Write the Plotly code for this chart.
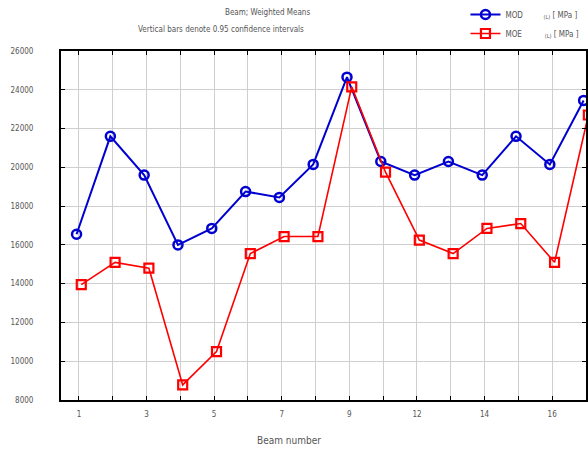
import plotly.graph_objects as go

beams = ["1", "2", "3", "4", "5", "6", "7", "8", "9", "10", "12", "13", "14", "15", "16", "17"]
mod_vals = [16550, 21600, 19600, 16000, 16850, 18750, 18450, 20150, 24650,
            20300, 19600, 20300, 19600, 21600, 20150, 23450]
moe_vals = [13950, 15100, 14800, 8780, 10500, 15550, 16430, 16430, 24150,
            19750, 16250, 15550, 16850, 17100, 15100, 22700]
y_ticks = [8000, 10000, 12000, 14000, 16000, 18000, 20000, 22000, 24000, 26000]
x_ticktext = [b if i % 2 == 0 else "" for i, b in enumerate(beams)]

FONT = "Liberation Sans Narrow, DejaVu Sans Condensed, Arial Narrow, sans-serif"
BLUE = "#0000d0"
RED = "#ff0000"
W, H = 588, 451
ML, MT, MB, MR = 61, 51, 51, 0
PW, PH = W - ML - MR, H - MT - MB

fig = go.Figure()
fig.add_trace(go.Scatter(
    x=beams, y=mod_vals, mode="lines+markers",
    name="MOD&nbsp;&nbsp;&nbsp;&nbsp;&nbsp;&nbsp;&nbsp;&nbsp;&nbsp;<sub>(L)</sub> [ MPa ]",
    offsetgroup="a",
    line=dict(color=BLUE, width=2),
    marker=dict(symbol="circle-open", size=9, color=BLUE, line=dict(width=2.5, color=BLUE)),
))
fig.add_trace(go.Scatter(
    x=beams, y=moe_vals, mode="lines+markers",
    name="MOE&nbsp;&nbsp;&nbsp;&nbsp;&nbsp;&nbsp;&nbsp;&nbsp;&nbsp;&nbsp;<sub>(L)</sub> [ MPa ]",
    offsetgroup="b",
    line=dict(color=RED, width=1.6),
    marker=dict(symbol="square-open", size=9, color=RED, line=dict(width=2.2, color=RED)),
))

fig.update_layout(
    width=W, height=H, autosize=False,
    margin=dict(l=ML, r=MR, t=MT, b=MB, pad=0),
    paper_bgcolor="white", plot_bgcolor="white",
    scattermode="group", scattergap=0.72,
    font=dict(family=FONT, size=8, color="#555"),
    showlegend=True,
    legend=dict(x=(467 - ML) / PW, y=1.0 + MT / PH, xanchor="left", yanchor="top",
                font=dict(family=FONT, size=8, color="#555"),
                bgcolor="rgba(0,0,0,0)", itemwidth=30, tracegroupgap=0),
)
fig.update_xaxes(
    type="category", categoryorder="array", categoryarray=beams,
    range=[-0.53, 15.0],
    tickmode="array", tickvals=beams, ticktext=x_ticktext,
    showgrid=True, gridcolor="#cfcfcf", gridwidth=1,
    showline=True, linecolor="black", linewidth=2, mirror="ticks",
    ticks="inside", ticklen=4, tickcolor="black",
    ticklabelstandoff=5,
    tickfont=dict(family=FONT, size=8, color="#555"),
    zeroline=False,
)
fig.update_yaxes(
    range=[8000, 26000],
    tickmode="array", tickvals=y_ticks, ticktext=[str(v) for v in y_ticks],
    showgrid=True, gridcolor="#cfcfcf", gridwidth=1,
    showline=True, linecolor="black", linewidth=2, mirror="ticks",
    ticks="inside", ticklen=4, tickcolor="black",
    ticklabelstandoff=24,
    tickfont=dict(family=FONT, size=8, color="#555"),
    zeroline=False,
)

fig.add_annotation(text="Beam; Weighted Means", xref="paper", yref="paper",
                   x=(268 - ML) / PW, y=1.0 + (MT - 12) / PH, showarrow=False,
                   font=dict(family=FONT, size=8, color="#555"), xanchor="center", yanchor="middle")
fig.add_annotation(text="Vertical bars denote 0.95 confidence intervals", xref="paper", yref="paper",
                   x=(222 - ML) / PW, y=1.0 + (MT - 30) / PH, showarrow=False,
                   font=dict(family=FONT, size=8, color="#555"), xanchor="center", yanchor="middle")
fig.add_annotation(text="Beam number", xref="paper", yref="paper",
                   x=(290 - ML) / PW, y=-(440 - (H - MB)) / PH, showarrow=False,
                   font=dict(family=FONT, size=10, color="#555"), xanchor="center", yanchor="middle")

post = ("document.documentElement.style.margin='0';document.documentElement.style.padding='0';"
        "document.documentElement.style.overflow='hidden';"
        "document.body.style.margin='0';document.body.style.padding='0';"
        "document.body.style.overflow='hidden';")

fig.write_html("out.html", config={"responsive": False, "displayModeBar": False}, post_script=post)
